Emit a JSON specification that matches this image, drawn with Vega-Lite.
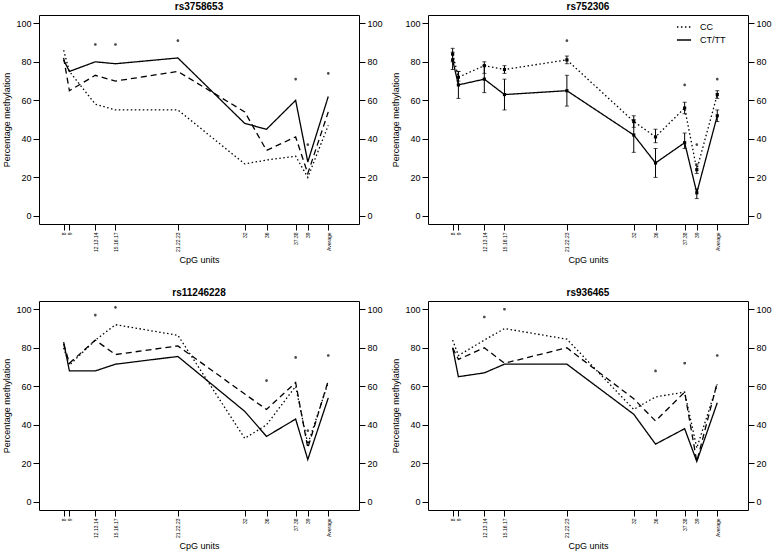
{
  "$schema": "https://vega.github.io/schema/vega-lite/v6.json",
  "background": "white",
  "padding": {"left": 2, "top": 1, "right": 0, "bottom": 0},
  "datasets": {
    "lines": [
      {"snp": "rs3758653", "cpg": "8", "pos": 77, "geno": "CC", "value": 86},
      {"snp": "rs3758653", "cpg": "9", "pos": 95, "geno": "CC", "value": 75},
      {"snp": "rs3758653", "cpg": "12.13.14", "pos": 176, "geno": "CC", "value": 58},
      {"snp": "rs3758653", "cpg": "15.16.17", "pos": 239, "geno": "CC", "value": 55},
      {"snp": "rs3758653", "cpg": "21.22.23", "pos": 434, "geno": "CC", "value": 55},
      {"snp": "rs3758653", "cpg": "32", "pos": 643, "geno": "CC", "value": 27},
      {"snp": "rs3758653", "cpg": "36", "pos": 711, "geno": "CC", "value": 29},
      {"snp": "rs3758653", "cpg": "37.38", "pos": 802, "geno": "CC", "value": 31},
      {"snp": "rs3758653", "cpg": "39", "pos": 840, "geno": "CC", "value": 20},
      {"snp": "rs3758653", "cpg": "Average", "pos": 904, "geno": "CC", "value": 47},
      {"snp": "rs3758653", "cpg": "8", "pos": 77, "geno": "CT", "value": 82},
      {"snp": "rs3758653", "cpg": "9", "pos": 95, "geno": "CT", "value": 65},
      {"snp": "rs3758653", "cpg": "12.13.14", "pos": 176, "geno": "CT", "value": 73},
      {"snp": "rs3758653", "cpg": "15.16.17", "pos": 239, "geno": "CT", "value": 70},
      {"snp": "rs3758653", "cpg": "21.22.23", "pos": 434, "geno": "CT", "value": 75},
      {"snp": "rs3758653", "cpg": "32", "pos": 643, "geno": "CT", "value": 54},
      {"snp": "rs3758653", "cpg": "36", "pos": 711, "geno": "CT", "value": 34},
      {"snp": "rs3758653", "cpg": "37.38", "pos": 802, "geno": "CT", "value": 41},
      {"snp": "rs3758653", "cpg": "39", "pos": 840, "geno": "CT", "value": 22},
      {"snp": "rs3758653", "cpg": "Average", "pos": 904, "geno": "CT", "value": 54},
      {"snp": "rs3758653", "cpg": "8", "pos": 77, "geno": "TT", "value": 81},
      {"snp": "rs3758653", "cpg": "9", "pos": 95, "geno": "TT", "value": 75},
      {"snp": "rs3758653", "cpg": "12.13.14", "pos": 176, "geno": "TT", "value": 80},
      {"snp": "rs3758653", "cpg": "15.16.17", "pos": 239, "geno": "TT", "value": 79},
      {"snp": "rs3758653", "cpg": "21.22.23", "pos": 434, "geno": "TT", "value": 82},
      {"snp": "rs3758653", "cpg": "32", "pos": 643, "geno": "TT", "value": 48},
      {"snp": "rs3758653", "cpg": "36", "pos": 711, "geno": "TT", "value": 45},
      {"snp": "rs3758653", "cpg": "37.38", "pos": 802, "geno": "TT", "value": 60},
      {"snp": "rs3758653", "cpg": "39", "pos": 840, "geno": "TT", "value": 28},
      {"snp": "rs3758653", "cpg": "Average", "pos": 904, "geno": "TT", "value": 62},

      {"snp": "rs752306", "cpg": "8", "pos": 77, "geno": "CC", "value": 84, "lo": 80, "hi": 87},
      {"snp": "rs752306", "cpg": "9", "pos": 95, "geno": "CC", "value": 72, "lo": 70, "hi": 75},
      {"snp": "rs752306", "cpg": "12.13.14", "pos": 176, "geno": "CC", "value": 78, "lo": 74, "hi": 80},
      {"snp": "rs752306", "cpg": "15.16.17", "pos": 239, "geno": "CC", "value": 76, "lo": 74, "hi": 78},
      {"snp": "rs752306", "cpg": "21.22.23", "pos": 434, "geno": "CC", "value": 81, "lo": 79, "hi": 83},
      {"snp": "rs752306", "cpg": "32", "pos": 643, "geno": "CC", "value": 49, "lo": 46, "hi": 52},
      {"snp": "rs752306", "cpg": "36", "pos": 711, "geno": "CC", "value": 41, "lo": 38, "hi": 45},
      {"snp": "rs752306", "cpg": "37.38", "pos": 802, "geno": "CC", "value": 56, "lo": 53, "hi": 59},
      {"snp": "rs752306", "cpg": "39", "pos": 840, "geno": "CC", "value": 24, "lo": 22, "hi": 27},
      {"snp": "rs752306", "cpg": "Average", "pos": 904, "geno": "CC", "value": 63, "lo": 61, "hi": 65},
      {"snp": "rs752306", "cpg": "8", "pos": 77, "geno": "CT/TT", "value": 81, "lo": 76, "hi": 85},
      {"snp": "rs752306", "cpg": "9", "pos": 95, "geno": "CT/TT", "value": 68, "lo": 61, "hi": 75},
      {"snp": "rs752306", "cpg": "12.13.14", "pos": 176, "geno": "CT/TT", "value": 71, "lo": 64, "hi": 78},
      {"snp": "rs752306", "cpg": "15.16.17", "pos": 239, "geno": "CT/TT", "value": 63, "lo": 55, "hi": 71},
      {"snp": "rs752306", "cpg": "21.22.23", "pos": 434, "geno": "CT/TT", "value": 65, "lo": 57, "hi": 73},
      {"snp": "rs752306", "cpg": "32", "pos": 643, "geno": "CT/TT", "value": 42, "lo": 33, "hi": 50},
      {"snp": "rs752306", "cpg": "36", "pos": 711, "geno": "CT/TT", "value": 27.5, "lo": 20, "hi": 35},
      {"snp": "rs752306", "cpg": "37.38", "pos": 802, "geno": "CT/TT", "value": 38, "lo": 35, "hi": 43},
      {"snp": "rs752306", "cpg": "39", "pos": 840, "geno": "CT/TT", "value": 12, "lo": 9, "hi": 14},
      {"snp": "rs752306", "cpg": "Average", "pos": 904, "geno": "CT/TT", "value": 52, "lo": 49, "hi": 55},

      {"snp": "rs11246228", "cpg": "8", "pos": 77, "geno": "CC", "value": 80},
      {"snp": "rs11246228", "cpg": "9", "pos": 95, "geno": "CC", "value": 71},
      {"snp": "rs11246228", "cpg": "12.13.14", "pos": 176, "geno": "CC", "value": 84},
      {"snp": "rs11246228", "cpg": "15.16.17", "pos": 239, "geno": "CC", "value": 92},
      {"snp": "rs11246228", "cpg": "21.22.23", "pos": 434, "geno": "CC", "value": 86.5},
      {"snp": "rs11246228", "cpg": "32", "pos": 643, "geno": "CC", "value": 33},
      {"snp": "rs11246228", "cpg": "36", "pos": 711, "geno": "CC", "value": 40},
      {"snp": "rs11246228", "cpg": "37.38", "pos": 802, "geno": "CC", "value": 60},
      {"snp": "rs11246228", "cpg": "39", "pos": 840, "geno": "CC", "value": 30},
      {"snp": "rs11246228", "cpg": "Average", "pos": 904, "geno": "CC", "value": 62},
      {"snp": "rs11246228", "cpg": "8", "pos": 77, "geno": "CT", "value": 82},
      {"snp": "rs11246228", "cpg": "9", "pos": 95, "geno": "CT", "value": 72},
      {"snp": "rs11246228", "cpg": "12.13.14", "pos": 176, "geno": "CT", "value": 84},
      {"snp": "rs11246228", "cpg": "15.16.17", "pos": 239, "geno": "CT", "value": 76.5},
      {"snp": "rs11246228", "cpg": "21.22.23", "pos": 434, "geno": "CT", "value": 81},
      {"snp": "rs11246228", "cpg": "32", "pos": 643, "geno": "CT", "value": 56},
      {"snp": "rs11246228", "cpg": "36", "pos": 711, "geno": "CT", "value": 48},
      {"snp": "rs11246228", "cpg": "37.38", "pos": 802, "geno": "CT", "value": 62},
      {"snp": "rs11246228", "cpg": "39", "pos": 840, "geno": "CT", "value": 28},
      {"snp": "rs11246228", "cpg": "Average", "pos": 904, "geno": "CT", "value": 63},
      {"snp": "rs11246228", "cpg": "8", "pos": 77, "geno": "TT", "value": 83},
      {"snp": "rs11246228", "cpg": "9", "pos": 95, "geno": "TT", "value": 68},
      {"snp": "rs11246228", "cpg": "12.13.14", "pos": 176, "geno": "TT", "value": 68},
      {"snp": "rs11246228", "cpg": "15.16.17", "pos": 239, "geno": "TT", "value": 71.5},
      {"snp": "rs11246228", "cpg": "21.22.23", "pos": 434, "geno": "TT", "value": 75.5},
      {"snp": "rs11246228", "cpg": "32", "pos": 643, "geno": "TT", "value": 47},
      {"snp": "rs11246228", "cpg": "36", "pos": 711, "geno": "TT", "value": 34},
      {"snp": "rs11246228", "cpg": "37.38", "pos": 802, "geno": "TT", "value": 43},
      {"snp": "rs11246228", "cpg": "39", "pos": 840, "geno": "TT", "value": 22},
      {"snp": "rs11246228", "cpg": "Average", "pos": 904, "geno": "TT", "value": 54},

      {"snp": "rs936465", "cpg": "8", "pos": 77, "geno": "CC", "value": 84},
      {"snp": "rs936465", "cpg": "9", "pos": 95, "geno": "CC", "value": 76},
      {"snp": "rs936465", "cpg": "12.13.14", "pos": 176, "geno": "CC", "value": 84},
      {"snp": "rs936465", "cpg": "15.16.17", "pos": 239, "geno": "CC", "value": 90},
      {"snp": "rs936465", "cpg": "21.22.23", "pos": 434, "geno": "CC", "value": 84.5},
      {"snp": "rs936465", "cpg": "32", "pos": 643, "geno": "CC", "value": 48},
      {"snp": "rs936465", "cpg": "36", "pos": 711, "geno": "CC", "value": 54.5},
      {"snp": "rs936465", "cpg": "37.38", "pos": 802, "geno": "CC", "value": 57},
      {"snp": "rs936465", "cpg": "39", "pos": 840, "geno": "CC", "value": 28},
      {"snp": "rs936465", "cpg": "Average", "pos": 904, "geno": "CC", "value": 61},
      {"snp": "rs936465", "cpg": "8", "pos": 77, "geno": "CT", "value": 80},
      {"snp": "rs936465", "cpg": "9", "pos": 95, "geno": "CT", "value": 74},
      {"snp": "rs936465", "cpg": "12.13.14", "pos": 176, "geno": "CT", "value": 80},
      {"snp": "rs936465", "cpg": "15.16.17", "pos": 239, "geno": "CT", "value": 72},
      {"snp": "rs936465", "cpg": "21.22.23", "pos": 434, "geno": "CT", "value": 80},
      {"snp": "rs936465", "cpg": "32", "pos": 643, "geno": "CT", "value": 53.5},
      {"snp": "rs936465", "cpg": "36", "pos": 711, "geno": "CT", "value": 42},
      {"snp": "rs936465", "cpg": "37.38", "pos": 802, "geno": "CT", "value": 57},
      {"snp": "rs936465", "cpg": "39", "pos": 840, "geno": "CT", "value": 21},
      {"snp": "rs936465", "cpg": "Average", "pos": 904, "geno": "CT", "value": 62},
      {"snp": "rs936465", "cpg": "8", "pos": 77, "geno": "TT", "value": 80},
      {"snp": "rs936465", "cpg": "9", "pos": 95, "geno": "TT", "value": 65},
      {"snp": "rs936465", "cpg": "12.13.14", "pos": 176, "geno": "TT", "value": 67},
      {"snp": "rs936465", "cpg": "15.16.17", "pos": 239, "geno": "TT", "value": 71.5},
      {"snp": "rs936465", "cpg": "21.22.23", "pos": 434, "geno": "TT", "value": 71.5},
      {"snp": "rs936465", "cpg": "32", "pos": 643, "geno": "TT", "value": 45.5},
      {"snp": "rs936465", "cpg": "36", "pos": 711, "geno": "TT", "value": 30},
      {"snp": "rs936465", "cpg": "37.38", "pos": 802, "geno": "TT", "value": 38},
      {"snp": "rs936465", "cpg": "39", "pos": 840, "geno": "TT", "value": 21},
      {"snp": "rs936465", "cpg": "Average", "pos": 904, "geno": "TT", "value": 51.5}
    ],
    "stars": [
      {"snp": "rs3758653", "pos": 176, "value": 89},
      {"snp": "rs3758653", "pos": 239, "value": 89},
      {"snp": "rs3758653", "pos": 434, "value": 91},
      {"snp": "rs3758653", "pos": 802, "value": 71},
      {"snp": "rs3758653", "pos": 840, "value": 37},
      {"snp": "rs3758653", "pos": 904, "value": 74},
      {"snp": "rs752306", "pos": 434, "value": 91},
      {"snp": "rs752306", "pos": 802, "value": 68},
      {"snp": "rs752306", "pos": 840, "value": 37},
      {"snp": "rs752306", "pos": 904, "value": 71},
      {"snp": "rs11246228", "pos": 176, "value": 97},
      {"snp": "rs11246228", "pos": 239, "value": 101},
      {"snp": "rs11246228", "pos": 711, "value": 63},
      {"snp": "rs11246228", "pos": 802, "value": 75},
      {"snp": "rs11246228", "pos": 840, "value": 37},
      {"snp": "rs11246228", "pos": 904, "value": 76},
      {"snp": "rs936465", "pos": 176, "value": 96},
      {"snp": "rs936465", "pos": 239, "value": 100},
      {"snp": "rs936465", "pos": 711, "value": 68},
      {"snp": "rs936465", "pos": 802, "value": 72},
      {"snp": "rs936465", "pos": 904, "value": 76}
    ]
  },
  "columns": 2,
  "spacing": {"row": 22, "column": 8},
  "resolve": {"scale": {"strokeDash": "independent"}, "legend": {"strokeDash": "independent"}},
  "concat": [
    {
      "title": "rs3758653",
      "width": 320,
      "height": 209,
      "encoding": {
        "x": {"field": "pos", "type": "quantitative", "scale": {"domain": [0, 1000], "nice": false, "zero": false},
          "axis": {"title": "CpG units", "values": [77, 95, 176, 239, 434, 643, 711, 802, 840, 904],
            "labelExpr": "datum.value == 77 ? '8' : datum.value == 95 ? '9' : datum.value == 176 ? '12.13.14' : datum.value == 239 ? '15.16.17' : datum.value == 434 ? '21.22.23' : datum.value == 643 ? '32' : datum.value == 711 ? '36' : datum.value == 802 ? '37.38' : datum.value == 840 ? '39' : 'Average'",
            "labelAngle": 270, "labelFontSize": 5, "labelOverlap": false, "labelFlush": false, "labelBound": false}}
      },
      "layer": [
        {
          "data": {"name": "lines"},
          "transform": [{"filter": "datum.snp === 'rs3758653'"}],
          "mark": {"type": "line", "color": "black", "strokeWidth": 1.3},
          "encoding": {
            "y": {"field": "value", "type": "quantitative", "scale": {"domain": [-4.2, 104.3], "nice": false, "zero": false},
              "axis": {"orient": "left", "values": [0, 20, 40, 60, 80, 100], "title": "Percentage methylation"}},
            "strokeDash": {"field": "geno", "type": "nominal", "legend": null,
              "scale": {"domain": ["CC", "CT", "TT"], "range": [[1.5, 2.5], [6, 4], [1, 0]]}}
          }
        },
        {
          "data": {"name": "stars"},
          "transform": [{"filter": "datum.snp === 'rs3758653'"}],
          "mark": {"type": "point", "shape": "M0,-0.5L0,0.5M-0.43,-0.25L0.43,0.25M-0.43,0.25L0.43,-0.25", "size": 28, "color": "black", "strokeWidth": 1.3},
          "encoding": {
            "y": {"field": "value", "type": "quantitative", "scale": {"domain": [-4.2, 104.3], "nice": false, "zero": false},
              "axis": {"orient": "right", "values": [0, 20, 40, 60, 80, 100], "title": null}}
          }
        }
      ],
      "resolve": {"axis": {"y": "independent"}}
    },
    {
      "title": "rs752306",
      "width": 320,
      "height": 209,
      "encoding": {
        "x": {"field": "pos", "type": "quantitative", "scale": {"domain": [0, 1000], "nice": false, "zero": false},
          "axis": {"title": "CpG units", "values": [77, 95, 176, 239, 434, 643, 711, 802, 840, 904],
            "labelExpr": "datum.value == 77 ? '8' : datum.value == 95 ? '9' : datum.value == 176 ? '12.13.14' : datum.value == 239 ? '15.16.17' : datum.value == 434 ? '21.22.23' : datum.value == 643 ? '32' : datum.value == 711 ? '36' : datum.value == 802 ? '37.38' : datum.value == 840 ? '39' : 'Average'",
            "labelAngle": 270, "labelFontSize": 5, "labelOverlap": false, "labelFlush": false, "labelBound": false}}
      },
      "layer": [
        {
          "data": {"name": "lines"},
          "transform": [{"filter": "datum.snp === 'rs752306'"}],
          "mark": {"type": "line", "color": "black", "strokeWidth": 1.3},
          "encoding": {
            "y": {"field": "value", "type": "quantitative", "scale": {"domain": [-4.2, 104.3], "nice": false, "zero": false},
              "axis": {"orient": "left", "values": [0, 20, 40, 60, 80, 100], "title": "Percentage methylation"}},
            "strokeDash": {"field": "geno", "type": "nominal",
              "scale": {"domain": ["CC", "CT/TT"], "range": [[1.5, 2.5], [1, 0]]},
              "legend": {"title": null, "orient": "none", "legendX": 248, "legendY": 4, "symbolType": "stroke", "symbolSize": 200,
                "symbolStrokeColor": "black", "symbolStrokeWidth": 1.3, "labelFontSize": 9, "rowPadding": 0, "padding": 0, "labelOffset": 8}}
          }
        },
        {
          "data": {"name": "lines"},
          "transform": [{"filter": "datum.snp === 'rs752306'"}],
          "mark": {"type": "rule", "color": "black", "strokeWidth": 1},
          "encoding": {
            "y": {"field": "lo", "type": "quantitative", "scale": {"domain": [-4.2, 104.3], "nice": false, "zero": false}, "axis": null},
            "y2": {"field": "hi"}
          }
        },
        {
          "data": {"name": "lines"},
          "transform": [{"filter": "datum.snp === 'rs752306'"}],
          "mark": {"type": "tick", "orient": "horizontal", "color": "black", "size": 4, "thickness": 1},
          "encoding": {
            "y": {"field": "lo", "type": "quantitative", "scale": {"domain": [-4.2, 104.3], "nice": false, "zero": false}, "axis": null}
          }
        },
        {
          "data": {"name": "lines"},
          "transform": [{"filter": "datum.snp === 'rs752306'"}],
          "mark": {"type": "tick", "orient": "horizontal", "color": "black", "size": 4, "thickness": 1},
          "encoding": {
            "y": {"field": "hi", "type": "quantitative", "scale": {"domain": [-4.2, 104.3], "nice": false, "zero": false}, "axis": null}
          }
        },
        {
          "data": {"name": "lines"},
          "transform": [{"filter": "datum.snp === 'rs752306'"}],
          "mark": {"type": "point", "shape": "square", "filled": true, "color": "black", "size": 10, "opacity": 1},
          "encoding": {
            "y": {"field": "value", "type": "quantitative", "scale": {"domain": [-4.2, 104.3], "nice": false, "zero": false}, "axis": null}
          }
        },
        {
          "data": {"name": "stars"},
          "transform": [{"filter": "datum.snp === 'rs752306'"}],
          "mark": {"type": "point", "shape": "M0,-0.5L0,0.5M-0.43,-0.25L0.43,0.25M-0.43,0.25L0.43,-0.25", "size": 28, "color": "black", "strokeWidth": 1.3},
          "encoding": {
            "y": {"field": "value", "type": "quantitative", "scale": {"domain": [-4.2, 104.3], "nice": false, "zero": false},
              "axis": {"orient": "right", "values": [0, 20, 40, 60, 80, 100], "title": null}}
          }
        }
      ],
      "resolve": {"axis": {"y": "independent"}}
    },
    {
      "title": "rs11246228",
      "width": 320,
      "height": 209,
      "encoding": {
        "x": {"field": "pos", "type": "quantitative", "scale": {"domain": [0, 1000], "nice": false, "zero": false},
          "axis": {"title": "CpG units", "values": [77, 95, 176, 239, 434, 643, 711, 802, 840, 904],
            "labelExpr": "datum.value == 77 ? '8' : datum.value == 95 ? '9' : datum.value == 176 ? '12.13.14' : datum.value == 239 ? '15.16.17' : datum.value == 434 ? '21.22.23' : datum.value == 643 ? '32' : datum.value == 711 ? '36' : datum.value == 802 ? '37.38' : datum.value == 840 ? '39' : 'Average'",
            "labelAngle": 270, "labelFontSize": 5, "labelOverlap": false, "labelFlush": false, "labelBound": false}}
      },
      "layer": [
        {
          "data": {"name": "lines"},
          "transform": [{"filter": "datum.snp === 'rs11246228'"}],
          "mark": {"type": "line", "color": "black", "strokeWidth": 1.3},
          "encoding": {
            "y": {"field": "value", "type": "quantitative", "scale": {"domain": [-4.2, 104.3], "nice": false, "zero": false},
              "axis": {"orient": "left", "values": [0, 20, 40, 60, 80, 100], "title": "Percentage methylation"}},
            "strokeDash": {"field": "geno", "type": "nominal", "legend": null,
              "scale": {"domain": ["CC", "CT", "TT"], "range": [[1.5, 2.5], [6, 4], [1, 0]]}}
          }
        },
        {
          "data": {"name": "stars"},
          "transform": [{"filter": "datum.snp === 'rs11246228'"}],
          "mark": {"type": "point", "shape": "M0,-0.5L0,0.5M-0.43,-0.25L0.43,0.25M-0.43,0.25L0.43,-0.25", "size": 28, "color": "black", "strokeWidth": 1.3},
          "encoding": {
            "y": {"field": "value", "type": "quantitative", "scale": {"domain": [-4.2, 104.3], "nice": false, "zero": false},
              "axis": {"orient": "right", "values": [0, 20, 40, 60, 80, 100], "title": null}}
          }
        }
      ],
      "resolve": {"axis": {"y": "independent"}}
    },
    {
      "title": "rs936465",
      "width": 320,
      "height": 209,
      "encoding": {
        "x": {"field": "pos", "type": "quantitative", "scale": {"domain": [0, 1000], "nice": false, "zero": false},
          "axis": {"title": "CpG units", "values": [77, 95, 176, 239, 434, 643, 711, 802, 840, 904],
            "labelExpr": "datum.value == 77 ? '8' : datum.value == 95 ? '9' : datum.value == 176 ? '12.13.14' : datum.value == 239 ? '15.16.17' : datum.value == 434 ? '21.22.23' : datum.value == 643 ? '32' : datum.value == 711 ? '36' : datum.value == 802 ? '37.38' : datum.value == 840 ? '39' : 'Average'",
            "labelAngle": 270, "labelFontSize": 5, "labelOverlap": false, "labelFlush": false, "labelBound": false}}
      },
      "layer": [
        {
          "data": {"name": "lines"},
          "transform": [{"filter": "datum.snp === 'rs936465'"}],
          "mark": {"type": "line", "color": "black", "strokeWidth": 1.3},
          "encoding": {
            "y": {"field": "value", "type": "quantitative", "scale": {"domain": [-4.2, 104.3], "nice": false, "zero": false},
              "axis": {"orient": "left", "values": [0, 20, 40, 60, 80, 100], "title": "Percentage methylation"}},
            "strokeDash": {"field": "geno", "type": "nominal", "legend": null,
              "scale": {"domain": ["CC", "CT", "TT"], "range": [[1.5, 2.5], [6, 4], [1, 0]]}}
          }
        },
        {
          "data": {"name": "stars"},
          "transform": [{"filter": "datum.snp === 'rs936465'"}],
          "mark": {"type": "point", "shape": "M0,-0.5L0,0.5M-0.43,-0.25L0.43,0.25M-0.43,0.25L0.43,-0.25", "size": 28, "color": "black", "strokeWidth": 1.3},
          "encoding": {
            "y": {"field": "value", "type": "quantitative", "scale": {"domain": [-4.2, 104.3], "nice": false, "zero": false},
              "axis": {"orient": "right", "values": [0, 20, 40, 60, 80, 100], "title": null}}
          }
        }
      ],
      "resolve": {"axis": {"y": "independent"}}
    }
  ],
  "config": {
    "font": "Liberation Sans",
    "view": {"stroke": "black", "strokeWidth": 1},
    "title": {"fontSize": 10, "fontWeight": "bold", "offset": 3, "color": "black"},
    "axis": {"domain": false, "grid": false, "tickColor": "black", "tickSize": 6, "labelColor": "black", "titleColor": "black",
      "labelFontSize": 9, "titleFontSize": 9, "titleFontWeight": "normal", "labelPadding": 2, "titlePadding": 4},
    "legend": {"labelColor": "black"}
  }
}
